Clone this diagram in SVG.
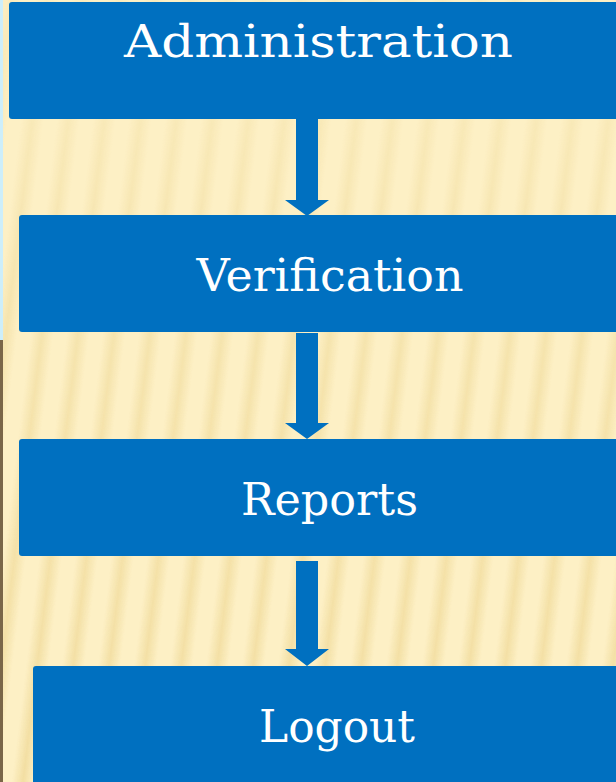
<svg xmlns="http://www.w3.org/2000/svg" width="616" height="782" viewBox="0 0 616 782">
  <defs>
    <linearGradient id="stripeGrad" x1="0" y1="0" x2="1" y2="0">
      <stop offset="0" stop-color="#e8cd80" stop-opacity="0"/>
      <stop offset="0.5" stop-color="#e8cd80" stop-opacity="0.5"/>
      <stop offset="1" stop-color="#e8cd80" stop-opacity="0"/>
    </linearGradient>
    <pattern id="stripes" patternUnits="userSpaceOnUse" width="36" height="782" patternTransform="skewX(-7)">
      <rect x="0" y="0" width="22" height="782" fill="url(#stripeGrad)"/>
    </pattern>
    <linearGradient id="fade" x1="0" y1="0" x2="0" y2="1">
      <stop offset="0" stop-color="#fff" stop-opacity="0.25"/>
      <stop offset="0.45" stop-color="#fff" stop-opacity="0.7"/>
      <stop offset="1" stop-color="#fff" stop-opacity="1"/>
    </linearGradient>
    <mask id="fadeMask">
      <rect x="0" y="0" width="616" height="782" fill="url(#fade)"/>
    </mask>
  </defs>
  <style>
    .box { fill: #0070C0; }
    .label { fill: #ffffff; font-family: "DejaVu Serif", "Liberation Serif", serif; font-size: 44px; text-anchor: middle; }
    .conn { fill: #0070C0; }
  </style>

  <!-- background -->
  <rect x="0" y="0" width="616" height="782" fill="#fdf0c5"/>
  <rect x="0" y="0" width="616" height="782" fill="url(#stripes)" mask="url(#fadeMask)"/>
  <rect x="0" y="0" width="3" height="340" fill="#cdeefa"/>
  <rect x="0" y="340" width="3" height="442" fill="#7a6648"/>

  <g id="connectors">
    <polygon class="conn" points="296,119 318,119 318,200 329,200 307,216 285,200 296,200"/>
    <polygon class="conn" points="296,333 318,333 318,423 329,423 307,439 285,423 296,423"/>
    <polygon class="conn" points="296,561 318,561 318,649 329,649 307,666 285,649 296,649"/>
  </g>

  <g id="node-administration">
    <rect class="box" x="9" y="2" width="620" height="117" rx="3"/>
    <text class="label" x="318.5" y="57" font-size="47" textLength="389" lengthAdjust="spacingAndGlyphs">Administration</text>
  </g>

  <g id="node-verification">
    <rect class="box" x="19" y="215" width="610" height="117" rx="3"/>
    <text class="label" x="330" y="291" textLength="267" lengthAdjust="spacingAndGlyphs">Verification</text>
  </g>

  <g id="node-reports">
    <rect class="box" x="19" y="439" width="610" height="117" rx="3"/>
    <text class="label" x="329.5" y="515" textLength="177" lengthAdjust="spacingAndGlyphs">Reports</text>
  </g>

  <g id="node-logout">
    <rect class="box" x="33" y="666" width="600" height="130" rx="3"/>
    <text class="label" x="337" y="742" textLength="156" lengthAdjust="spacingAndGlyphs">Logout</text>
  </g>
</svg>
